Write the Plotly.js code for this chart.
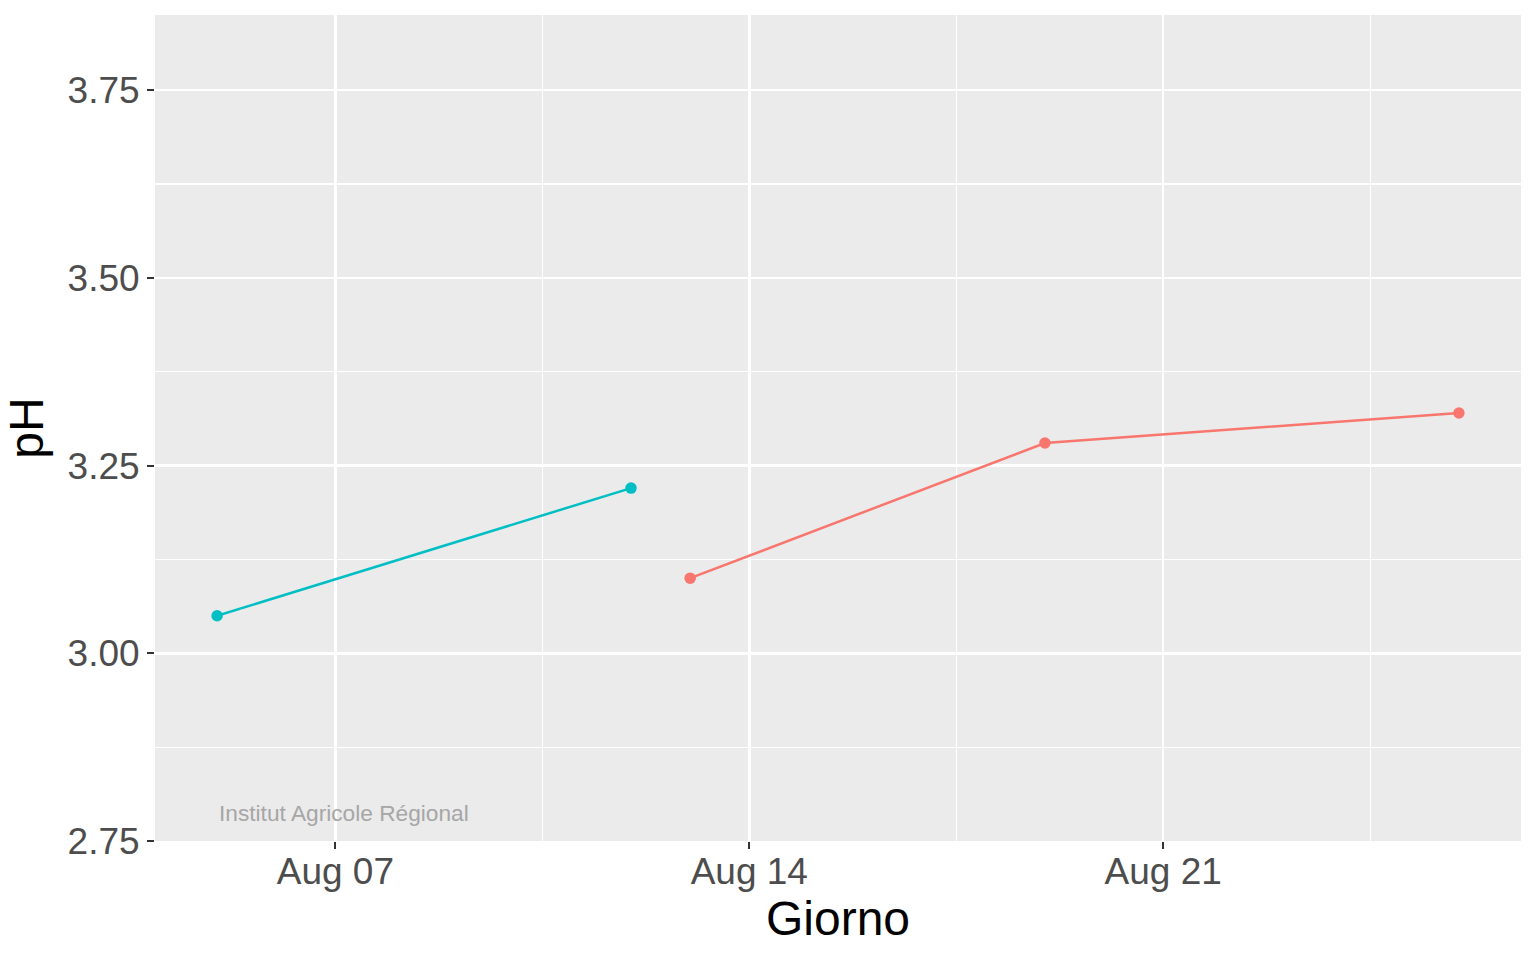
<!DOCTYPE html>
<html>
<head>
<meta charset="utf-8">
<script src="https://cdn.plot.ly/plotly-3.0.1.min.js"></script>
<style>
  html, body { margin: 0; padding: 0; background: #fff; }
  #chart { width: 1536px; height: 960px; }
</style>
</head>
<body>
<div id="chart"></div>
<script>
// two periods of pH readings
const daysA = ['2023-08-05', '2023-08-12'];
const phA = [3.05, 3.22];
const daysB = ['2023-08-13', '2023-08-19', '2023-08-26'];
const phB = [3.10, 3.28, 3.32];

const xTicks = ['2023-08-07', '2023-08-14', '2023-08-21'];
const xTickText = ['Aug 07', 'Aug 14', 'Aug 21'];
const xMinor = ['2023-08-03 12:00', '2023-08-10 12:00', '2023-08-17 12:00', '2023-08-24 12:00'];
const yTicks = [2.75, 3.00, 3.25, 3.50, 3.75];
const yTickText = ['2.75', '3.00', '3.25', '3.50', '3.75'];
const yMinor = [2.875, 3.125, 3.375, 3.625];

const font = 'Liberation Sans, Arial, sans-serif';

function series(x, y, color) {
  return {
    x: x,
    y: y,
    type: 'scatter',
    mode: 'lines+markers',
    line: { color: color, width: 2.5 },
    marker: { color: color, size: 11.5 },
    hoverinfo: 'x+y',
  };
}

const traces = [
  series(daysA, phA, '#00BFC4'),
  series(daysB, phB, '#F8766D'),
];

const axisStyle = {
  showline: false,
  zeroline: false,
  showgrid: true,
  gridcolor: '#FFFFFF',
  gridwidth: 2.5,
  ticks: 'outside',
  ticklen: 7,
  tickwidth: 2,
  tickcolor: '#333333',
  tickfont: { family: font, size: 37, color: '#4D4D4D' },
};

const layout = {
  width: 1536,
  height: 960,
  margin: { l: 155, r: 15, t: 15, b: 119 },
  paper_bgcolor: '#FFFFFF',
  plot_bgcolor: '#EBEBEB',
  showlegend: false,
  xaxis: Object.assign({}, axisStyle, {
    type: 'date',
    range: ['2023-08-03 22:48', '2023-08-27 01:12'],
    tickmode: 'array',
    tickvals: xTicks,
    ticktext: xTickText,
    ticklabelstandoff: -9,
    minor: { tickmode: 'array', tickvals: xMinor, showgrid: true, gridcolor: '#FFFFFF', gridwidth: 1.2, ticks: '' },
    title: { text: 'Giorno', font: { family: font, size: 48, color: '#000000' }, standoff: 6 },
  }),
  yaxis: Object.assign({}, axisStyle, {
    range: [2.75, 3.85],
    tickmode: 'array',
    tickvals: yTicks,
    ticktext: yTickText,
    minor: { tickmode: 'array', tickvals: yMinor, showgrid: true, gridcolor: '#FFFFFF', gridwidth: 1.2, ticks: '' },
    title: { text: 'pH', font: { family: font, size: 48, color: '#000000' }, standoff: 8 },
  }),
  annotations: [{
    x: '2023-08-05',
    y: 2.787,
    xref: 'x',
    yref: 'y',
    xanchor: 'left',
    yanchor: 'middle',
    showarrow: false,
    text: 'Institut Agricole Régional',
    font: { family: font, size: 22.7, color: '#A6A6A6' },
  }],
};

Plotly.newPlot('chart', traces, layout, { displayModeBar: false, staticPlot: true });
</script>
</body>
</html>
